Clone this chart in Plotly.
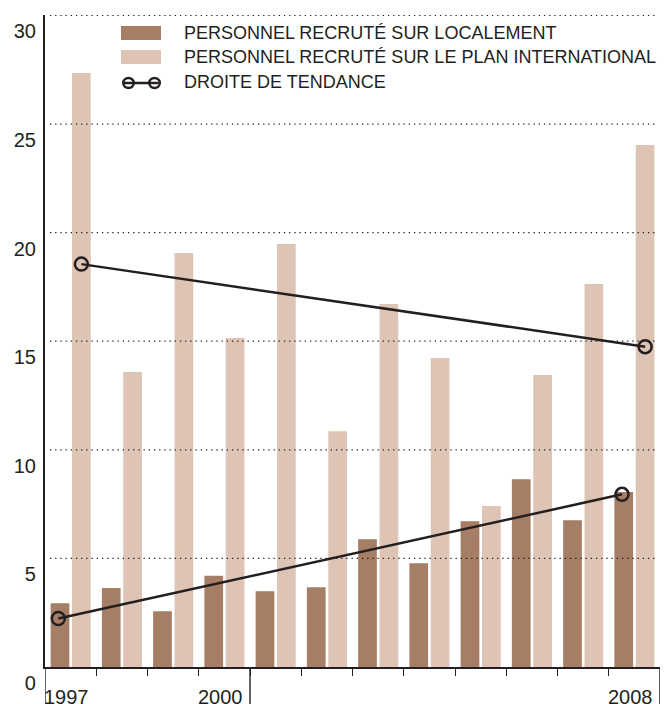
import plotly.graph_objects as go

years = ["1997", "1998", "1999", "2000", "2001", "2002",
         "2003", "2004", "2005", "2006", "2007", "2008"]
local_staff = [2.94, 3.64, 2.57, 4.2, 3.49, 3.67, 5.88, 4.78, 6.71, 8.65, 6.76, 8.06]
intl_staff = [27.35, 13.58, 19.06, 15.15, 19.48, 10.86, 16.71, 14.23, 7.41, 13.44, 17.64, 24.03]
trend_local = [2.23, 7.95]
trend_intl = [18.55, 14.75]
shown_years = ["1997", "2000", "2008"]
y_ticks = [0, 5, 10, 15, 20, 25, 30]
legend_labels = ["PERSONNEL RECRUTÉ SUR LOCALEMENT",
                 "PERSONNEL RECRUTÉ SUR LE PLAN INTERNATIONAL",
                 "DROITE DE TENDANCE"]

DARK = "#a67d65"
LIGHT = "#dec4b5"
INK = "#231f20"
FONT = "Liberation Sans, Arial, sans-serif"

xs = list(range(len(years)))
ends = [xs[0], xs[-1]]

fig = go.Figure()
fig.add_trace(go.Bar(x=xs, y=local_staff, width=0.365, offset=-0.39,
                     marker_color=DARK, marker_line_width=0, name=legend_labels[0]))
fig.add_trace(go.Bar(x=xs, y=intl_staff, width=0.365, offset=0.027,
                     marker_color=LIGHT, marker_line_width=0, name=legend_labels[1]))

for vals, dx in [(trend_local, -0.24), (trend_intl, 0.21)]:
    fig.add_trace(go.Scatter(
        x=[e + dx for e in ends], y=vals, mode="lines+markers",
        line=dict(color=INK, width=2.5),
        marker=dict(symbol="circle-open", size=13, line=dict(color=INK, width=2.5)),
        name=legend_labels[2], cliponaxis=False))

shapes = []
# dotted grid, drawn over the bars
for t in y_ticks[1:]:
    shapes.append(dict(type="line", xref="paper", yref="y", x0=0.008, x1=0.995,
                       y0=t, y1=t, layer="above",
                       line=dict(color=INK, width=1.3, dash="1.3px,3.9px")))
# long separators below the axis
for xv in [-0.5, 3.5, 11.5]:
    shapes.append(dict(type="line", xref="x", yref="paper", x0=xv, x1=xv,
                       y0=0, y1=-0.07, line=dict(color=INK, width=1.4)))

# custom legend
sw_x0, sw_x1 = 0.1236, 0.1886
shapes.append(dict(type="rect", xref="paper", yref="paper", x0=sw_x0, x1=sw_x1,
                   y0=0.9617, y1=0.9831, fillcolor=DARK, line_width=0))
shapes.append(dict(type="rect", xref="paper", yref="paper", x0=sw_x0, x1=sw_x1,
                   y0=0.9248, y1=0.9463, fillcolor=LIGHT, line_width=0))
shapes.append(dict(type="line", xref="paper", yref="paper", x0=sw_x0 + 0.004, x1=sw_x1 - 0.004,
                   y0=0.8957, y1=0.8957, line=dict(color=INK, width=2.5)))
for cx in [0.1358, 0.1781]:
    shapes.append(dict(type="circle", xref="paper", yref="paper",
                       x0=cx - 0.0085, x1=cx + 0.0085, y0=0.8880, y1=0.9034,
                       line=dict(color=INK, width=2.5)))

annotations = []
for lbl, yp in zip(legend_labels, [0.9724, 0.9356, 0.8972]):
    annotations.append(dict(text=lbl, xref="paper", yref="paper", x=0.2228, y=yp,
                            xanchor="left", yanchor="middle", showarrow=False,
                            font=dict(size=18, color=INK, family=FONT)))
for yr in shown_years:
    annotations.append(dict(text=yr, xref="x", yref="paper", x=years.index(yr), y=0,
                            xanchor="center", yanchor="top", yshift=-17, xshift=-4,
                            showarrow=False, font=dict(size=20, color=INK, family=FONT)))

fig.update_layout(
    width=669, height=704,
    margin=dict(l=45, r=9, t=15, b=37, autoexpand=False),
    plot_bgcolor="white", paper_bgcolor="white",
    showlegend=False,
    shapes=shapes, annotations=annotations,
    font=dict(family=FONT, color=INK),
)
fig.update_xaxes(range=[-0.5, 11.5], showgrid=False, zeroline=False, automargin=False,
                 showline=True, linecolor=INK, linewidth=2.2,
                 tickvals=[i + 0.5 for i in xs[:-1]], showticklabels=False,
                 ticks="outside", ticklen=7, tickwidth=1.4, tickcolor=INK)
fig.update_yaxes(range=[0, 30.02], showgrid=False, zeroline=False, automargin=False,
                 showline=True, linecolor=INK, linewidth=2.2,
                 tickvals=y_ticks, ticks="", ticklabelshift=16,
                 ticklabelstandoff=3,
                 tickfont=dict(size=20, color=INK, family=FONT))

fig.write_html("out.html", config={"displayModeBar": False},
               post_script="document.body.style.margin='0';")
